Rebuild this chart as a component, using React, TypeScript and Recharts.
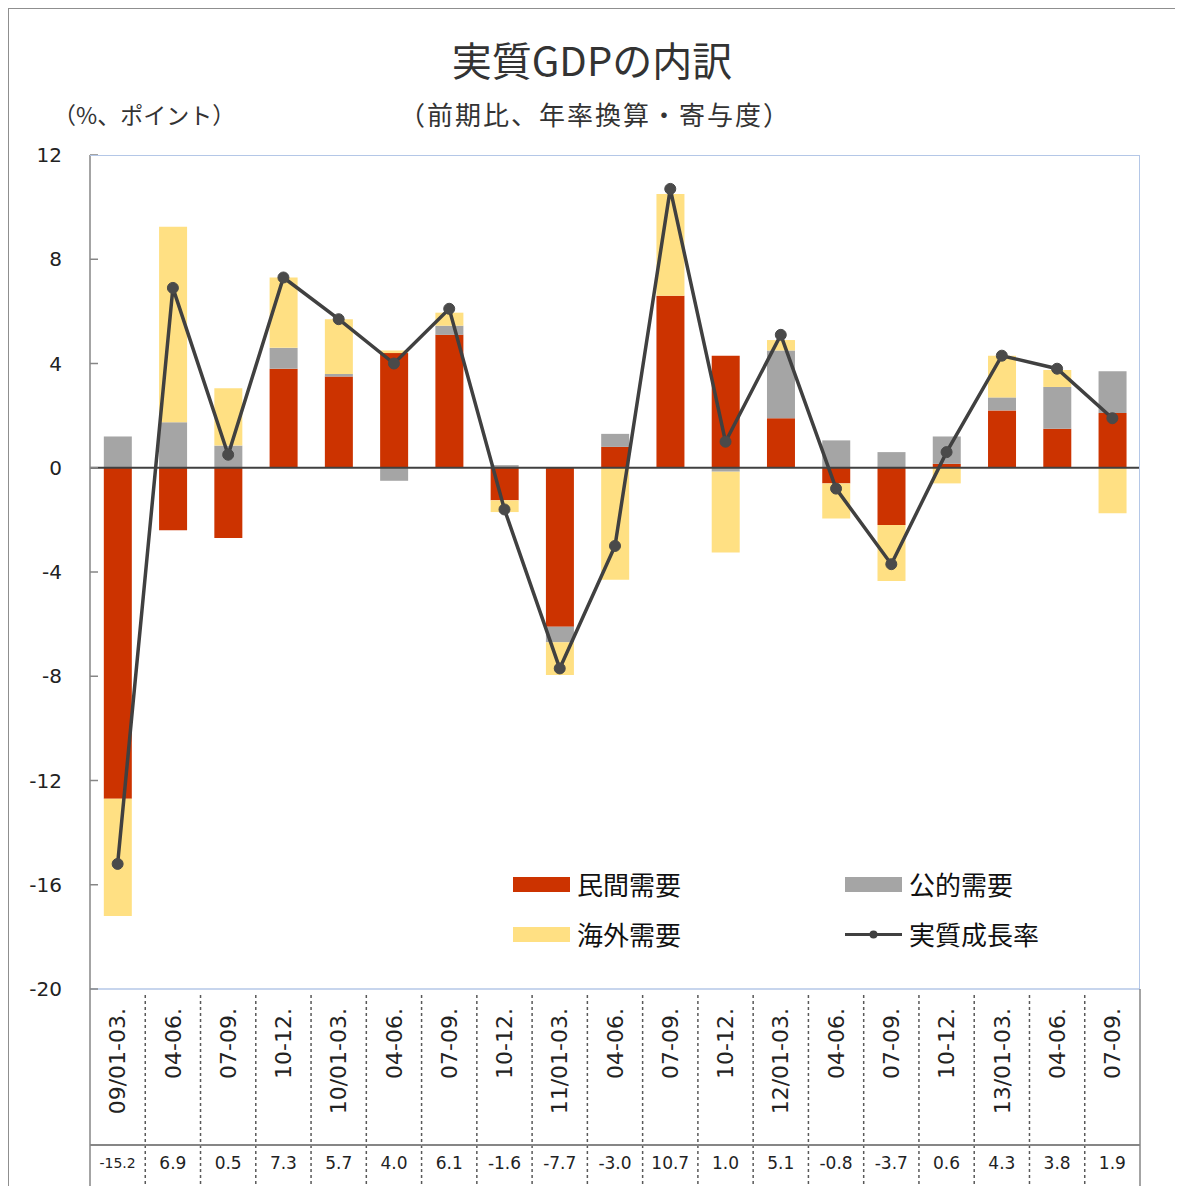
import { ComposedChart, Bar, Line, XAxis, YAxis, ReferenceLine } from 'recharts';

const quarters = [
  '09/01-03.', '04-06.', '07-09.', '10-12.',
  '10/01-03.', '04-06.', '07-09.', '10-12.',
  '11/01-03.', '04-06.', '07-09.', '10-12.',
  '12/01-03.', '04-06.', '07-09.', '10-12.',
  '13/01-03.', '04-06.', '07-09.',
];
const privateDemand = [-12.7, -2.4, -2.7, 3.8, 3.5, 4.4, 5.1, -1.25, -6.1, 0.8, 6.6, 4.3, 1.9, -0.6, -2.2, 0.15, 2.2, 1.5, 2.1];
const publicDemand = [1.2, 1.75, 0.85, 0.8, 0.1, -0.5, 0.35, 0.1, -0.6, 0.5, 0, -0.15, 2.6, 1.05, 0.6, 1.05, 0.5, 1.6, 1.6];
const overseasDemand = [-4.5, 7.5, 2.2, 2.7, 2.1, 0.1, 0.5, -0.45, -1.25, -4.3, 3.9, -3.1, 0.4, -1.35, -2.15, -0.6, 1.6, 0.65, -1.75];
const realGrowth = [-15.2, 6.9, 0.5, 7.3, 5.7, 4.0, 6.1, -1.6, -7.7, -3.0, 10.7, 1.0, 5.1, -0.8, -3.7, 0.6, 4.3, 3.8, 1.9];
const yTicks = [12, 8, 4, 0, -4, -8, -12, -16, -20];

const RED = '#cc3300';
const GRAY = '#a5a5a5';
const YELLOW = '#ffe083';
const LINE = '#404040';
const BLUE = '#b4c7e7';
const AXIS = '#868686';

const PLOT_W = 1050;
const band = PLOT_W / quarters.length;

const data = quarters.map((q, i) => ({
  q,
  private: privateDemand[i],
  public: publicDemand[i],
  overseas: overseasDemand[i],
  growth: realGrowth[i],
}));

// category labels + data table row under the plot
const QuarterTick = (props: any) => {
  const { x, y, payload, index } = props;
  const left = x - band / 2;
  const right = x + band / 2;
  const last = index === quarters.length - 1;
  const val = realGrowth[index].toFixed(1);
  return (
    <g>
      {index === 0 && <line x1={left} x2={left} y1={y} y2={y + 230} stroke={AXIS} strokeWidth={1.5} />}
      <line
        x1={right} x2={right} y1={last ? y : y + 6} y2={y + 230}
        stroke={last ? AXIS : '#595959'} strokeWidth={1.5}
        strokeDasharray={last ? undefined : '3 3'}
      />
      <line x1={left} x2={right} y1={y + 156} y2={y + 156} stroke={AXIS} strokeWidth={2} />
      <text
        x={x} y={y + 19} dy="0.35em" textAnchor="end"
        transform={`rotate(-90, ${x}, ${y + 19})`}
        fontFamily="DejaVu Sans" fontSize={22} fill="#222"
      >
        {payload.value}
      </text>
      <text
        x={x} y={y + 174} dy="0.35em" textAnchor="middle"
        fontFamily="DejaVu Sans" fontSize={val.length > 4 ? 14 : 17} fill="#222"
      >
        {val}
      </text>
    </g>
  );
};

const legendItems = [
  { name: '民間需要', color: RED, left: 504, top: 858, kind: 'bar' },
  { name: '公的需要', color: GRAY, left: 836, top: 858, kind: 'bar' },
  { name: '海外需要', color: YELLOW, left: 504, top: 908, kind: 'bar' },
  { name: '実質成長率', color: LINE, left: 836, top: 908, kind: 'line' },
];

export default function App() {
  return (
    <div
      style={{
        position: 'relative', width: 1170, height: 1200, border: '1px solid #8f8f8f',
        background: '#fff', fontFamily: '"Noto Sans CJK JP", sans-serif', color: '#333',
      }}
    >
      <div style={{ position: 'absolute', left: 0, top: 29, width: 1166, textAlign: 'center', fontSize: 40, lineHeight: '42px' }}>
        実質GDPの内訳
      </div>
      <div style={{ position: 'absolute', left: 44, top: 90, fontSize: 23, lineHeight: '30px' }}>
        （%、ポイント）
      </div>
      <div style={{ position: 'absolute', left: 390, top: 90, fontSize: 26, lineHeight: '30px', letterSpacing: 2 }}>
        （前期比、年率換算・寄与度）
      </div>

      <ComposedChart
        width={1170}
        height={1190}
        data={data}
        stackOffset="sign"
        barCategoryGap="25%"
        margin={{ top: 146, right: 39, bottom: 0, left: 0 }}
      >
        <XAxis
          dataKey="q"
          height={210}
          interval={0}
          tickLine={false}
          tickSize={0}
          tickMargin={0}
          axisLine={{ stroke: BLUE, strokeWidth: 1.5 }}
          tick={(p: any) => <QuarterTick {...p} />}
        />
        <YAxis
          type="number"
          domain={[-20, 12]}
          ticks={yTicks}
          width={81}
          tickSize={-8}
          tickMargin={36}
          axisLine={{ stroke: AXIS, strokeWidth: 1.5 }}
          tickLine={{ stroke: AXIS, strokeWidth: 1.5 }}
          tick={{ fontFamily: 'DejaVu Sans', fontSize: 20, fill: '#222' }}
        />
        <Bar dataKey="private" stackId="a" fill={RED} isAnimationActive={false} />
        <Bar dataKey="public" stackId="a" fill={GRAY} isAnimationActive={false} />
        <Bar dataKey="overseas" stackId="a" fill={YELLOW} isAnimationActive={false} />
        <ReferenceLine y={0} stroke={LINE} strokeWidth={2} />
        <Line
          type="linear"
          dataKey="growth"
          stroke={LINE}
          strokeWidth={3.5}
          dot={{ r: 5.5, fill: '#4a4a4a', stroke: '#4a4a4a', strokeWidth: 1 }}
          isAnimationActive={false}
        />
      </ComposedChart>

      <div
        style={{
          position: 'absolute', left: 81, top: 146, width: PLOT_W, height: 834, boxSizing: 'border-box',
          borderTop: `1.5px solid ${BLUE}`, borderRight: `1.5px solid ${BLUE}`, pointerEvents: 'none',
        }}
      />

      {legendItems.map((it) => (
        <div
          key={it.name}
          style={{ position: 'absolute', left: it.left, top: it.top, display: 'flex', alignItems: 'center', gap: 7, fontSize: 26, lineHeight: '34px', color: '#111' }}
        >
          {it.kind === 'bar' ? (
            <div style={{ width: 57, height: 15, background: it.color }} />
          ) : (
            <svg width={57} height={15}>
              <line x1={0} x2={57} y1={7.5} y2={7.5} stroke={it.color} strokeWidth={3} />
              <circle cx={28.5} cy={7.5} r={4} fill={it.color} />
            </svg>
          )}
          <span>{it.name}</span>
        </div>
      ))}
    </div>
  );
}
